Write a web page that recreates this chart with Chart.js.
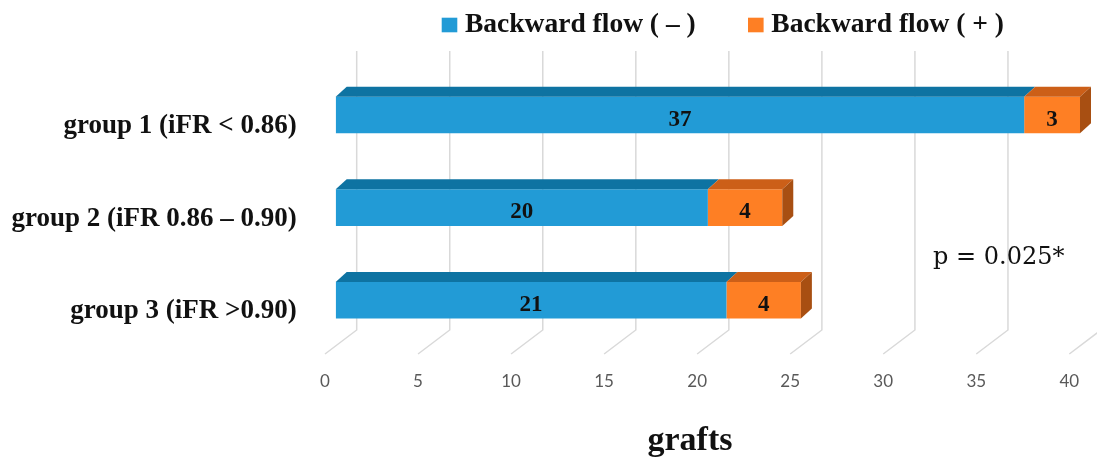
<!DOCTYPE html>
<html>
<head>
<meta charset="utf-8">
<script src="https://cdn.jsdelivr.net/npm/chart.js@4.4.0/dist/chart.umd.min.js"></script>
<style>
  html, body { margin: 0; padding: 0; background: #ffffff; }
  #wrap { width: 1097px; height: 462px; }
</style>
</head>
<body>
<div id="wrap"><canvas id="c" width="1097" height="462"></canvas></div>
<script>
// Grafts per iFR group, split by presence of backward flow
const groups = ['group 1 (iFR < 0.86)', 'group 2 (iFR 0.86 \u2013 0.90)', 'group 3 (iFR >0.90)'];
const flowNegative = [37, 20, 21];
const flowPositive = [3, 4, 4];
const seriesNames = ['Backward flow ( \u2013 )', 'Backward flow ( + )'];
const axisMin = 0;
const axisMax = 40;
const axisStep = 5;
const axisTitle = 'grafts';
const pValueText = 'p = 0.025*';

// face colours: front, top, side
const frontColors = ['#229bd6', '#fe7f24'];
const topColors = ['#0e73a2', '#cc5f18'];
const sideColor = '#a84f12';

const DEPTH_X = 11, DEPTH_Y = 10;     // extrusion of the bars
const WALL_X = 21;                     // back wall offset of the grid
const FLOOR_X = -10.7;                 // front edge of the floor
const GRID_TOP = 51, WALL_BOTTOM = 330, FLOOR_FRONT = 354;

const depthPlugin = {
  id: 'depth3d',
  beforeDatasetsDraw(chart) {
    const ctx = chart.ctx;
    const xs = chart.scales.x;
    ctx.save();
    ctx.strokeStyle = '#d9d9d9';
    ctx.lineWidth = 1.5;
    xs.ticks.forEach(t => {
      const px = xs.getPixelForValue(t.value);
      ctx.beginPath();
      ctx.moveTo(px + WALL_X, GRID_TOP);
      ctx.lineTo(px + WALL_X, WALL_BOTTOM);
      ctx.lineTo(px + FLOOR_X, FLOOR_FRONT);
      ctx.stroke();
    });
    ctx.restore();
  },
  afterDatasetsDraw(chart) {
    const ctx = chart.ctx;
    const nSets = chart.data.datasets.length;
    ctx.save();
    chart.data.datasets.forEach((ds, i) => {
      const meta = chart.getDatasetMeta(i);
      meta.data.forEach(el => {
        const p = el.getProps(['x', 'y', 'base', 'height'], true);
        const top = p.y - p.height / 2;
        // top face
        ctx.fillStyle = topColors[i];
        ctx.beginPath();
        ctx.moveTo(p.base, top);
        ctx.lineTo(p.x, top);
        ctx.lineTo(p.x + DEPTH_X, top - DEPTH_Y);
        ctx.lineTo(p.base + DEPTH_X, top - DEPTH_Y);
        ctx.closePath();
        ctx.fill();
        // right side face on the outer segment
        if (i === nSets - 1) {
          ctx.fillStyle = sideColor;
          ctx.beginPath();
          ctx.moveTo(p.x, top);
          ctx.lineTo(p.x + DEPTH_X, top - DEPTH_Y);
          ctx.lineTo(p.x + DEPTH_X, top + p.height - DEPTH_Y);
          ctx.lineTo(p.x, top + p.height);
          ctx.closePath();
          ctx.fill();
        }
      });
    });
    // value labels
    ctx.fillStyle = '#111111';
    ctx.font = 'bold 23px "Liberation Serif"';
    ctx.textAlign = 'center';
    ctx.textBaseline = 'alphabetic';
    chart.data.datasets.forEach((ds, i) => {
      const meta = chart.getDatasetMeta(i);
      meta.data.forEach((el, j) => {
        const p = el.getProps(['x', 'y', 'base'], true);
        ctx.fillText(String(ds.data[j]), (p.x + p.base) / 2, p.y + 10.7);
      });
    });
    ctx.restore();
  },
  afterDraw(chart) {
    const ctx = chart.ctx;
    ctx.save();
    // legend
    const legendX = [441.7, 748];
    ctx.font = 'bold 27.5px "Liberation Serif"';
    ctx.textAlign = 'left';
    ctx.textBaseline = 'alphabetic';
    chart.data.datasets.forEach((ds, i) => {
      ctx.fillStyle = ds.backgroundColor;
      ctx.fillRect(legendX[i], 17.7, 15.6, 14.6);
      ctx.fillStyle = '#111111';
      ctx.fillText(ds.label, legendX[i] + 23.3, 32.3);
    });
    // significance note
    ctx.font = '24px "DejaVu Serif"';
    ctx.fillStyle = '#111111';
    ctx.fillText(pValueText, 933, 264);
    // axis title
    ctx.font = 'bold 34px "Liberation Serif"';
    ctx.textAlign = 'center';
    ctx.fillText(axisTitle, 690, 450);
    ctx.restore();
  }
};

new Chart(document.getElementById('c'), {
  type: 'bar',
  data: {
    labels: groups,
    datasets: [
      { label: seriesNames[0], data: flowNegative, backgroundColor: frontColors[0] },
      { label: seriesNames[1], data: flowPositive, backgroundColor: frontColors[1] }
    ]
  },
  options: {
    indexAxis: 'y',
    responsive: false,
    animation: false,
    devicePixelRatio: 1,
    categoryPercentage: 0.395,
    barPercentage: 1,
    layout: { padding: { top: 68.65, right: 17, left: 0, bottom: 0 } },
    plugins: { legend: { display: false }, tooltip: { enabled: false } },
    scales: {
      x: {
        stacked: true,
        min: axisMin,
        max: axisMax,
        grid: { display: false, drawTicks: false },
        border: { display: false },
        ticks: {
          stepSize: axisStep,
          padding: 24.5,
          labelOffset: FLOOR_X,
          maxRotation: 0,
          autoSkip: false,
          color: '#595959',
          font: { family: 'Lato', size: 17 }
        },
        afterFit(scale) {
          scale.height = 115.35;
          scale.paddingLeft = 0;
          scale.paddingRight = 0;
        }
      },
      y: {
        stacked: true,
        grid: { display: false, drawTicks: false },
        border: { display: false },
        ticks: {
          padding: 39,
          labelOffset: 11.2,
          color: '#111111',
          font: { family: 'Liberation Serif', size: 27, weight: 'bold' }
        },
        afterFit(scale) {
          scale.width = 335.7;
          scale.paddingTop = 0;
          scale.paddingBottom = 0;
        }
      }
    }
  },
  plugins: [depthPlugin]
});
</script>
</body>
</html>
